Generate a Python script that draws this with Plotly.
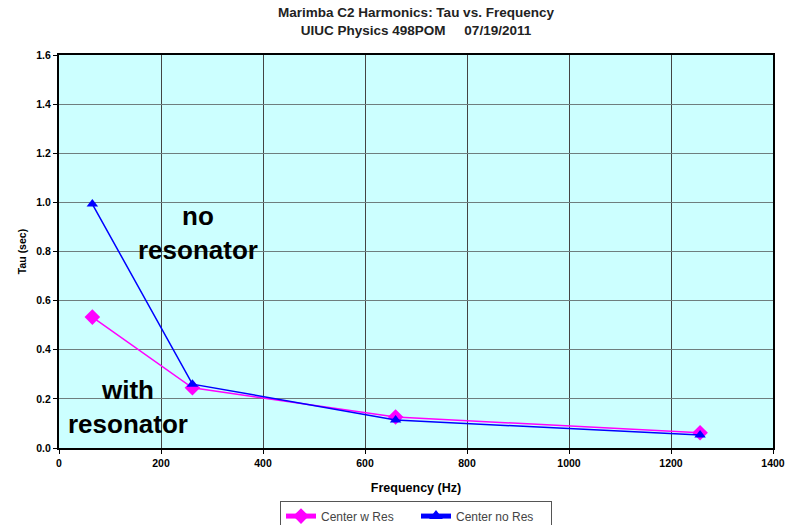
import plotly.graph_objects as go

freq = [65.4, 261.6, 660, 1257]
tau_with_res = [0.533, 0.245, 0.126, 0.062]
tau_no_res = [0.993, 0.26, 0.114, 0.053]

x_ticks = [0, 200, 400, 600, 800, 1000, 1200, 1400]
y_ticks = [0.0, 0.2, 0.4, 0.6, 0.8, 1.0, 1.2, 1.4, 1.6]

fig = go.Figure()
fig.add_trace(go.Scatter(
    x=freq, y=tau_with_res, name="Center w Res", mode="lines+markers",
    line=dict(color="#FF00FF", width=1.5),
    marker=dict(symbol="diamond", size=12, color="#FF00FF"),
))
fig.add_trace(go.Scatter(
    x=freq, y=tau_no_res, name="Center no Res", mode="lines+markers",
    line=dict(color="#0000FF", width=1.5),
    marker=dict(symbol="triangle-up", size=10, color="#0000FF"),
))

font_family = "Liberation Sans, Arial, sans-serif"

fig.update_layout(
    width=798, height=525,
    margin=dict(l=59, r=25, t=55, b=77),
    paper_bgcolor="white",
    plot_bgcolor="#CCFFFF",
    font=dict(family=font_family, color="black", size=10),
    title=dict(
        text="<b>Marimba C2 Harmonics: Tau vs. Frequency<br>UIUC Physics 498POM     07/19/2011</b>",
        x=0.5, xanchor="center", xref="paper", y=0.967, yanchor="middle", yref="container",
        font=dict(size=13.5, family=font_family, color="#222"),
    ),
    showlegend=True,
    legend=dict(
        orientation="h", x=0.5, xanchor="center", xref="paper",
        y=0.017, yanchor="middle", yref="container",
        bordercolor="#555", borderwidth=1, bgcolor="white",
        font=dict(size=12, color="#444"),
        itemsizing="constant", entrywidth=90, entrywidthmode="pixels",
    ),
    xaxis=dict(
        range=[0, 1400], tickvals=x_ticks, ticktext=["<b>%d</b>" % v for v in x_ticks],
        showgrid=True, gridcolor="#444444", gridwidth=1,
        showline=True, linecolor="black", linewidth=2, mirror=True,
        ticks="outside", ticklen=4, tickcolor="black",
        zeroline=False, automargin=False,
        tickfont=dict(size=10.5, family=font_family),
        title=dict(text="<b>Frequency (Hz)</b>", font=dict(size=12.5), standoff=16),
    ),
    yaxis=dict(
        range=[0, 1.6], tickvals=y_ticks, ticktext=["<b>%.1f</b>" % v for v in y_ticks],
        showgrid=True, gridcolor="#6E7E7E", gridwidth=1,
        showline=True, linecolor="black", linewidth=2, mirror=True,
        ticks="outside", ticklen=4, tickcolor="black",
        zeroline=False,
        tickfont=dict(size=10.5, family=font_family),
        title=dict(text="<b>Tau (sec)</b>", font=dict(size=10.5), standoff=8),
    ),
)

fig.add_annotation(x=272, y=0.875, xref="x", yref="y", text="<b>no<br>resonator</b>",
                   showarrow=False, font=dict(size=26, family=font_family, color="black"),
                   align="center")
fig.add_annotation(x=135, y=0.167, xref="x", yref="y", text="<b>with<br>resonator</b>",
                   showarrow=False, font=dict(size=26, family=font_family, color="black"),
                   align="center")

fig.write_html("out.html", config={"displayModeBar": False},
               post_script="document.body.style.margin='0';")
